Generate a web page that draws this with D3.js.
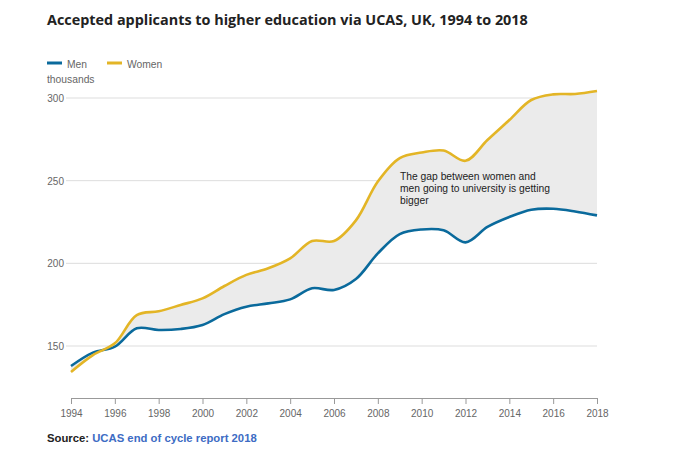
<!DOCTYPE html>
<html><head><meta charset="utf-8">
<script src="https://cdn.jsdelivr.net/npm/d3@7"></script>
<style>body{margin:0;background:#fff}</style>
</head><body><svg id="c" width="680" height="451"></svg>
<script>
const years = [1994,1995,1996,1997,1998,1999,2000,2001,2002,2003,2004,2005,2006,2007,2008,2009,2010,2011,2012,2013,2014,2015,2016,2017,2018];
const men = [137.9,146,149.6,160.7,159.7,160.3,162.7,169.3,173.8,175.8,178.2,184.9,183.9,190.5,206,217.7,220.5,220,212.7,222,228,232.4,233,231.4,229];
const women = [134.3,144.5,151.6,168.7,171,174.8,178.8,186.3,193,197,203,213.5,213.5,226,249.5,263.7,267,268.2,262,274.6,286.7,298.8,302.2,302.4,304.2];
const yTicks = [150,200,250,300];
const xTicks = [1994,1996,1998,2000,2002,2004,2006,2008,2010,2012,2014,2016,2018];
const seriesNames = ["Men","Women"];
const colors = ["#0a6a9c","#e3b526"];

const svg = d3.select("#c");
const x = d3.scaleLinear().domain([1994,2018]).range([71,597]);
const y = d3.scaleLinear().domain([150,300]).range([346,98]);
const yBottom = 398;
const sans = "'Liberation Sans', Arial, sans-serif";

svg.append("text").attr("x",47).attr("y",25)
  .attr("font-family","'Open Sans', sans-serif").attr("font-weight","bold")
  .attr("font-size",14.4).attr("fill","#222")
  .text("Accepted applicants to higher education via UCAS, UK, 1994 to 2018");

// legend
const leg = [{n:seriesNames[0],c:colors[0],x:47},{n:seriesNames[1],c:colors[1],x:107}];
leg.forEach(l=>{
  svg.append("line").attr("x1",l.x).attr("x2",l.x+15).attr("y1",63).attr("y2",63)
    .attr("stroke",l.c).attr("stroke-width",3);
  svg.append("text").attr("x",l.x+20).attr("y",68).attr("font-family",sans)
    .attr("font-size",10.3).attr("fill","#666").text(l.n);
});
svg.append("text").attr("x",47).attr("y",83).attr("font-family",sans)
  .attr("font-size",10.3).attr("fill","#666").text("thousands");

// grid
const g = svg.append("g");
yTicks.forEach(t=>{
  g.append("line").attr("x1",66).attr("x2",597).attr("y1",y(t)).attr("y2",y(t))
    .attr("stroke","#ddd").attr("stroke-width",1);
  g.append("text").attr("x",64).attr("y",y(t)+4).attr("text-anchor","end")
    .attr("font-family",sans).attr("font-size",10).attr("fill","#666").text(t);
});

// area between
const data = years.map((yr,i)=>({yr,m:men[i],w:women[i]}));
const curve = d3.curveCatmullRom.alpha(0.5);
svg.append("path").datum(data)
  .attr("d", d3.area().curve(curve).x(d=>x(d.yr)).y0(d=>y(d.m)).y1(d=>y(d.w)))
  .attr("fill","#ebebeb");

// x axis
const xa = svg.append("g").attr("transform",`translate(0,${yBottom})`)
  .call(d3.axisBottom(x).tickValues(xTicks).tickFormat(d3.format("d")).tickSize(6).tickSizeOuter(0));
xa.select(".domain").attr("stroke","#999");
xa.selectAll(".tick line").attr("stroke","#999");
xa.selectAll(".tick text").attr("font-family",sans).attr("font-size",10).attr("fill","#666").attr("dy","0.95em");

// lines
[men,women].forEach((s,i)=>{
  svg.append("path").datum(years.map((yr,j)=>[yr,s[j]]))
    .attr("d", d3.line().curve(curve).x(d=>x(d[0])).y(d=>y(d[1])))
    .attr("fill","none").attr("stroke",colors[i]).attr("stroke-width",2.6)
    .attr("stroke-linejoin","round");
});

// annotation
const ann = ["The gap between women and","men going to university is getting","bigger"];
ann.forEach((t,i)=>{
  svg.append("text").attr("x",400).attr("y",180+i*12).attr("font-family",sans)
    .attr("font-size",10.3).attr("fill","#222").text(t);
});

// source
const src = svg.append("text").attr("x",47).attr("y",442).attr("font-family",sans)
  .attr("font-size",11.3).attr("font-weight","bold");
src.append("tspan").attr("fill","#222").text("Source: ");
src.append("tspan").attr("fill","#3d6cc4").text("UCAS end of cycle report 2018");
</script>
</body></html>
